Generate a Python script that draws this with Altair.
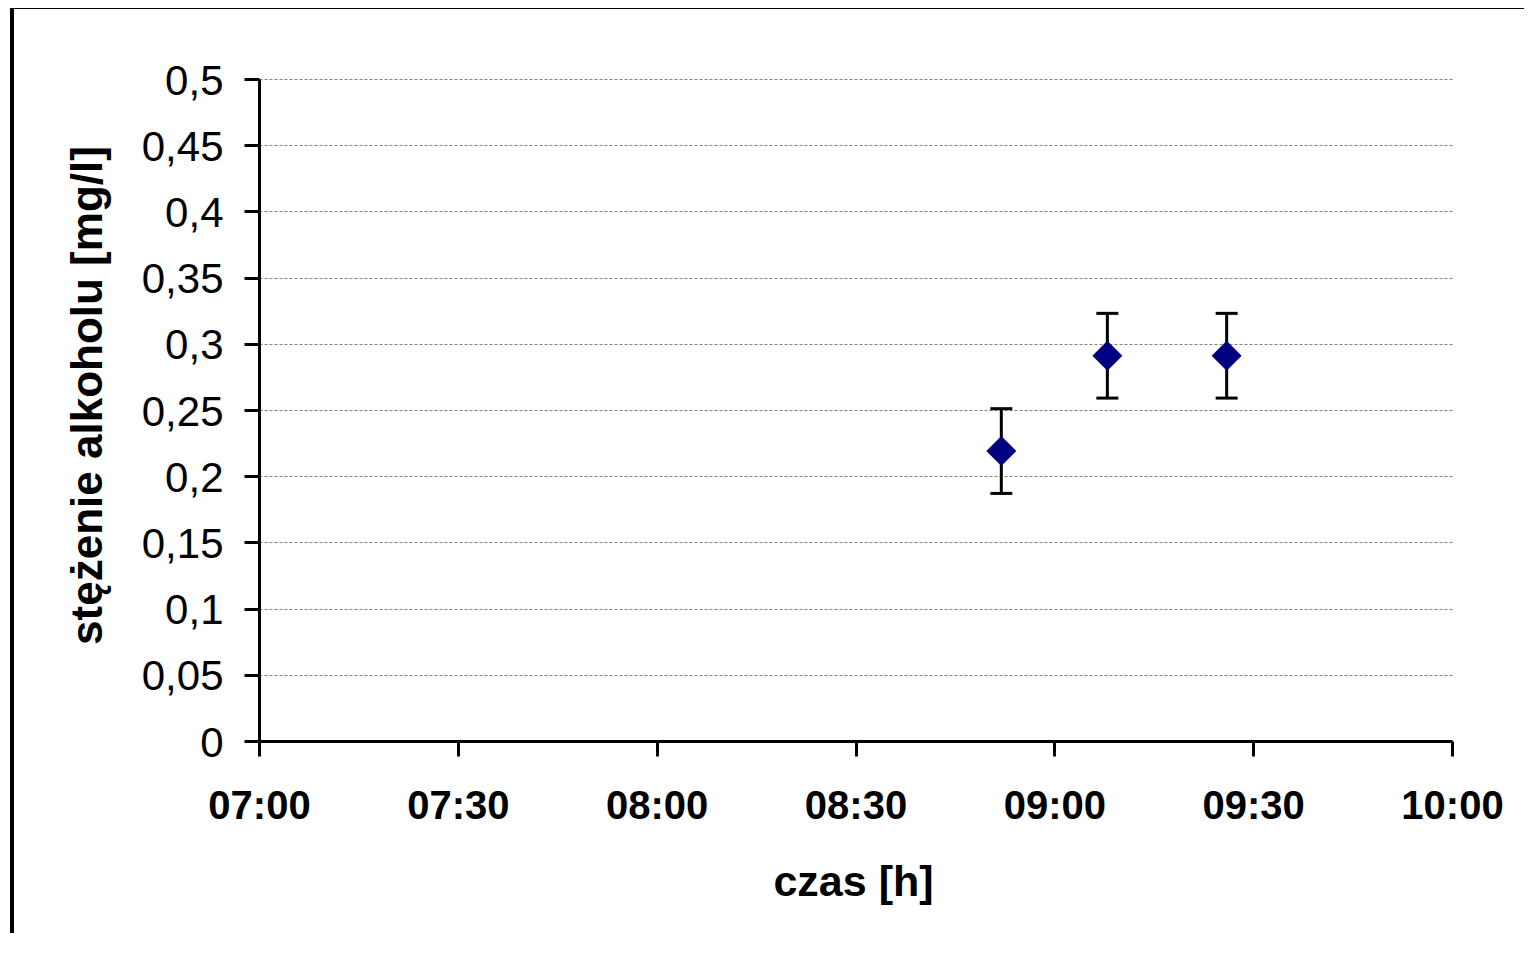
import altair as alt
import pandas as pd

# --- data ---
times = ["08:52", "09:08", "09:26"]
values = [0.219, 0.291, 0.291]
errors = [0.032, 0.032, 0.032]

x_ticks = ["07:00", "07:30", "08:00", "08:30", "09:00", "09:30", "10:00"]
y_ticks = [0, 0.05, 0.1, 0.15, 0.2, 0.25, 0.3, 0.35, 0.4, 0.45, 0.5]


def to_min(s):
    h, m = s.split(":")
    return int(h) * 60 + int(m)


df = pd.DataFrame({
    "t": [to_min(s) for s in times],
    "v": values,
    "lo": [v - e for v, e in zip(values, errors)],
    "hi": [v + e for v, e in zip(values, errors)],
})

xt = [to_min(s) for s in x_ticks]

FONT = "Liberation Sans"

x_scale = alt.Scale(domain=[xt[0], xt[-1]], nice=False, zero=False)
y_scale = alt.Scale(domain=[0, 0.5], nice=False, zero=False)

x_axis = alt.Axis(
    values=xt,
    labelExpr="pad(floor(datum.value/60), 2, '0', 'left') + ':' + pad(datum.value % 60, 2, '0', 'left')",
    grid=False,
    domainColor="black", domainWidth=3,
    tickColor="black", tickWidth=3, tickSize=15,
    labelFont=FONT, labelFontSize=40, labelFontWeight="bold", labelColor="black",
    labelBaseline="alphabetic", labelPadding=62, labelOverlap=False, labelFlush=False, labelBound=False,
    title="czas [h]", titleFont=FONT, titleFontSize=43, titleFontWeight="bold", titleColor="black",
    titleX=594, titleY=154, titleBaseline="alphabetic", titleAlign="center", titleAnchor="middle",
)

y_axis = alt.Axis(
    values=y_ticks,
    labelExpr="replace(format(datum.value, '.2~f'), '.', ',')",
    grid=True, gridColor="#808080", gridDash=[3, 2], gridWidth=1,
    domainColor="black", domainWidth=3,
    tickColor="black", tickWidth=3, tickSize=15,
    labelFont=FONT, labelFontSize=42, labelFontWeight="normal", labelColor="black",
    labelBaseline="alphabetic", labelOffset=15, labelPadding=21, labelOverlap=False, labelFlush=False, labelBound=False,
    title="stężenie alkoholu [mg/l]", titleFont=FONT, titleFontSize=44, titleFontWeight="bold", titleColor="black",
    titleAngle=270, titleX=-158, titleY=316, titleBaseline="alphabetic", titleAlign="center",
)

base = alt.Chart(df)

bars = base.mark_rule(color="black", strokeWidth=3).encode(
    x=alt.X("t:Q", scale=x_scale, axis=x_axis),
    y=alt.Y("lo:Q", scale=y_scale, axis=y_axis),
    y2="hi:Q",
)
cap_lo = base.mark_tick(color="black", thickness=3, size=22, orient="horizontal", opacity=1).encode(
    x=alt.X("t:Q", scale=x_scale), y=alt.Y("lo:Q", scale=y_scale)
)
cap_hi = base.mark_tick(color="black", thickness=3, size=22, orient="horizontal", opacity=1).encode(
    x=alt.X("t:Q", scale=x_scale), y=alt.Y("hi:Q", scale=y_scale)
)
points = base.mark_point(shape="diamond", filled=True, color="#000080", size=900, opacity=1).encode(
    x=alt.X("t:Q", scale=x_scale), y=alt.Y("v:Q", scale=y_scale)
)

frame_df = pd.DataFrame({"a": [0]})
frame_top = alt.Chart(frame_df).mark_rule(color="black", strokeWidth=4, clip=False).encode(
    x=alt.value(-249), x2=alt.value(1400), y=alt.value(-72)
)
frame_left = alt.Chart(frame_df).mark_rule(color="black", strokeWidth=4, clip=False).encode(
    x=alt.value(-247), y=alt.value(-74), y2=alt.value(1000)
)

chart = alt.layer(bars, cap_lo, cap_hi, points, frame_top, frame_left).properties(
    width=1193,
    height=662,
    padding={"left": 251, "top": 71, "right": 72, "bottom": 192},
    autosize=alt.AutoSizeParams(type="none"),
    background="white",
).configure_view(stroke="transparent")

chart.save("out.html", embed_options={"renderer": "svg", "actions": False})
